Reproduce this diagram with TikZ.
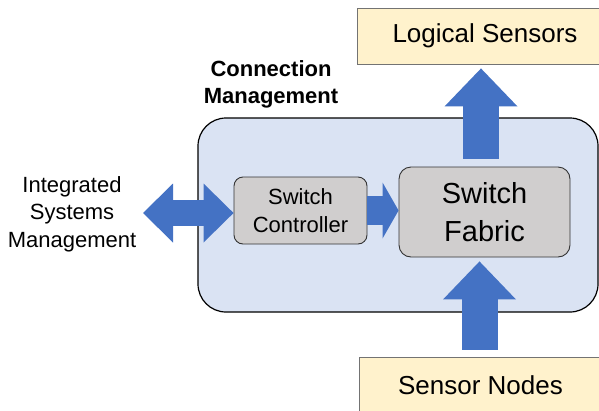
\documentclass[tikz,border=0pt]{standalone}
\usepackage{fontspec}
\setmainfont{Liberation Sans}
\usetikzlibrary{arrows.meta}

\definecolor{arrowblue}{HTML}{4472C4}
\definecolor{cmfill}{HTML}{DAE3F3}
\definecolor{swgray}{HTML}{D0CECE}
\definecolor{sensyellow}{HTML}{FFF2CC}

\tikzset{
    cmbox/.style={draw=black,line width=1.2pt,fill=cmfill,rounded corners=28pt},
    swbox/.style={draw=black!80,line width=0.9pt,fill=swgray,align=center},
    sensbox/.style={draw=black!55,line width=0.9pt,fill=sensyellow,font=\fontsize{26}{30}\selectfont},
    fatarrow/.style={draw=arrowblue,line width=36pt,-{Triangle[length=38pt,width=73pt,line width=0pt]}},
}

\begin{document}
\begin{tikzpicture}[x=1pt,y=-1pt]
        \clip (0,0) rectangle (599,410);
        %% boxes
        \node[cmbox,minimum width=400pt,minimum height=194pt] (cm) at (398,215) {};
        \node[swbox,rounded corners=9pt,minimum width=133pt,minimum height=67pt,
              font=\fontsize{22}{28}\selectfont] (ctrl) at (300.5,210.5) {Switch\\Controller};
        \node[swbox,rounded corners=12pt,minimum width=171pt,minimum height=90pt,
              font=\fontsize{29}{38}\selectfont] (fab) at (484.5,212) {Switch\\Fabric};
        \node[sensbox,minimum width=256pt,minimum height=56pt] (logical) at (485,36) {Logical Sensors};
        \node[sensbox,minimum width=243pt,minimum height=56pt] (sensor) at (480.5,385) {Sensor Nodes};
        %% labels
        \node[align=center,inner sep=0pt,font=\fontsize{22}{27.5}\selectfont] (ism) at (72,214)
            {Integrated\\Systems\\Management};
        \node[align=center,inner sep=0pt,font=\fontsize{22}{27}\selectfont\bfseries] (cmlabel) at (271,84)
            {Connection\\Management};
        %% arrows
        \coordinate (lefttip) at (143,213);
        \draw[draw=arrowblue,line width=26pt,
              {Triangle[length=30pt,width=59pt,line width=0pt]}-{Triangle[length=30pt,width=59pt,line width=0pt]}]
              (lefttip) -- (lefttip -| ctrl.west);
        \draw[draw=arrowblue,line width=29pt,-{Triangle[length=16pt,width=56pt,line width=0pt]}]
              (ctrl.east) -- (ctrl.east -| fab.west);
        \draw[fatarrow,shorten <=8pt,shorten >=4pt] ([xshift=-3.5pt]fab.north) -- ([xshift=-3.5pt]fab.north |- logical.south);
        \draw[fatarrow,shorten <=7pt,shorten >=4pt] ([xshift=-5pt]fab.south |- sensor.north) -- ([xshift=-5pt]fab.south);
\end{tikzpicture}
\end{document}
